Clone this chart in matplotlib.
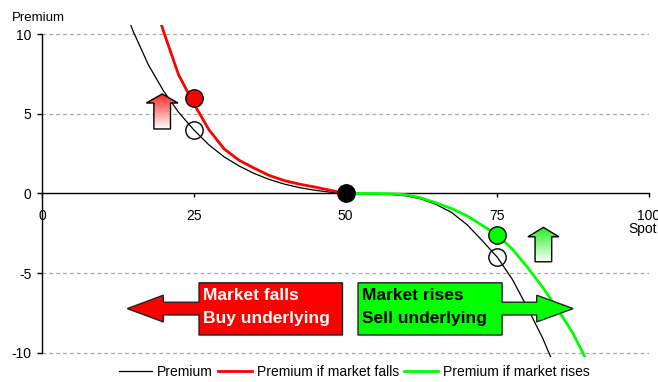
import numpy as np
import matplotlib
matplotlib.use("Agg")
import matplotlib.pyplot as plt
from matplotlib.patches import Polygon
from matplotlib.colors import LinearSegmentedColormap

plt.rcParams['font.family'] = ['Liberation Sans', 'DejaVu Sans']
plt.rcParams['axes.unicode_minus'] = False

# ---- data ----
x_premium = [14.5, 15, 17.5, 20, 22.5, 25, 27.5, 30, 32.5, 35, 37.5, 40, 42.5, 45, 47.5, 50,
             52.5, 55, 57.5, 60, 62.5, 65, 67.5, 70, 72.5, 75, 77.5, 80, 82.5, 84.5]
y_premium = [10.7, 10.2, 8.1, 6.45, 5.1, 4.0, 3.05, 2.3, 1.72, 1.25, 0.87, 0.58, 0.36, 0.2, 0.08, 0.0,
             -0.01, -0.03, -0.07, -0.15, -0.35, -0.7, -1.2, -1.95, -2.95, -4.0, -5.4, -7.2, -9.1, -10.9]
x_falls = [19.5, 20, 22.5, 25, 27.5, 30, 32.5, 35, 37.5, 40, 42.5, 45, 47.5, 50]
y_falls = [10.8, 10.2, 7.45, 5.65, 4.0, 2.8, 2.08, 1.58, 1.12, 0.8, 0.58, 0.4, 0.2, 0.0]
x_rises = [50, 52.5, 55, 57.5, 60, 62.5, 65, 67.5, 70, 72.5, 75, 77.5, 80, 82.5, 85, 87.5, 90]
y_rises = [0.0, 0.0, 0.0, -0.02, -0.08, -0.28, -0.6, -0.95, -1.4, -2.0, -2.6, -3.5, -4.65, -5.9, -7.3, -8.8, -10.7]

open_pts_x = [25, 75]
open_pts_y = [4, -4]
atm_x, atm_y = [50], [0]
fall_pt_x, fall_pt_y = [25], [6]
rise_pt_x, rise_pt_y = [75], [-2.6]

x_ticks = [0, 25, 50, 75, 100]
y_ticks = [-10, -5, 0, 5, 10]
legend_labels = ["Premium", "Premium if market falls", "Premium if market rises"]

RED = "#ff0000"
GREEN = "#00ff00"

fig = plt.figure(figsize=(6.58, 3.82), dpi=100)
ax = fig.add_axes([42/658, 25/382, (649-42)/658, 332/382])
ax.set_xlim(0, 100)
ax.set_ylim(-10.27, 10.58)

# grid
for yv in [-10, -5, 5, 10]:
    ax.plot([0, 100], [yv, yv], color="#a8a8a8", lw=0.9, ls=(0, (3, 2.5)), zorder=1)

l1, = ax.plot(x_premium, y_premium, color="black", lw=0.9, zorder=3)
l2, = ax.plot(x_falls, y_falls, color=RED, lw=2.0, zorder=3)
l3, = ax.plot(x_rises, y_rises, color=GREEN, lw=2.0, zorder=3)

ms = 12.5
ax.plot(open_pts_x, open_pts_y, 'o', ms=ms, mfc='none', mec='black', mew=1, zorder=6)
ax.plot(atm_x, atm_y, 'o', ms=ms, mfc='black', mec='black', mew=1, zorder=6)
ax.plot(fall_pt_x, fall_pt_y, 'o', ms=ms, mfc=RED, mec='black', mew=1, zorder=6)
ax.plot(rise_pt_x, rise_pt_y, 'o', ms=ms, mfc=GREEN, mec='black', mew=1, zorder=6)

# spines
for s in ['top', 'right']:
    ax.spines[s].set_visible(False)
ax.spines['bottom'].set_position(('data', 0))
ax.spines['bottom'].set_bounds(0, 100)
ax.spines['left'].set_bounds(-10, 10)
for s in ['bottom', 'left']:
    ax.spines[s].set_linewidth(1.0)
    ax.spines[s].set_zorder(2)
ax.set_xticks(x_ticks)
ax.set_yticks(y_ticks)
ax.set_xticklabels([str(v) for v in x_ticks])
ax.set_yticklabels([str(v) for v in y_ticks])
ax.tick_params(axis='x', direction='out', length=3, width=1, pad=8, labelsize=10)
ax.tick_params(axis='y', direction='out', length=3.3, width=1, pad=4.3, labelsize=10)

fig.text(12/658, 1 - 18/382, "Premium", fontsize=9.5, ha='left', va='center')
fig.text(628/658, 1 - 229/382, "Spot", fontsize=10, ha='left', va='center')


def grad_arrow(cx, tip, base, bottom, hw, sw, color):
    verts = [(cx - sw, bottom), (cx - sw, base), (cx - hw, base), (cx, tip),
             (cx + hw, base), (cx + sw, base), (cx + sw, bottom)]
    poly = Polygon(verts, closed=True, facecolor='none', edgecolor='black', lw=1, zorder=5)
    ax.add_patch(poly)
    grad = np.linspace(0, 1, 256).reshape(-1, 1)
    cmap = LinearSegmentedColormap.from_list('g', ['white', color])
    im = ax.imshow(grad, extent=[cx - hw, cx + hw, bottom, tip], origin='lower',
                   cmap=cmap, aspect='auto', zorder=4, interpolation='bilinear')
    im.set_clip_path(poly)


grad_arrow(19.8, 6.25, 5.68, 4.05, 2.6, 1.37, "#ff2020")
grad_arrow(82.6, -2.13, -2.72, -4.29, 2.55, 1.37, "#22ee22")


def big_arrow(box_l, box_r, head_base, tip, color, direction):
    yc = -7.23
    bt, bb = -5.61, -8.89
    st, sb = yc + 0.4, yc - 0.4
    ht, hb = yc + 0.84, yc - 0.84
    if direction == 'left':
        verts = [(box_r, bt), (box_l, bt), (box_l, st), (head_base, st), (head_base, ht),
                 (tip, yc), (head_base, hb), (head_base, sb), (box_l, sb), (box_l, bb), (box_r, bb)]
    else:
        verts = [(box_l, bt), (box_r, bt), (box_r, st), (head_base, st), (head_base, ht),
                 (tip, yc), (head_base, hb), (head_base, sb), (box_r, sb), (box_r, bb), (box_l, bb)]
    poly = Polygon(verts, closed=True, facecolor=color, edgecolor='#222222', lw=1.0, zorder=7)
    ax.add_patch(poly)


big_arrow(25.87, 49.5, 19.98, 14.05, RED, 'left')
big_arrow(52.06, 75.8, 81.5, 87.5, GREEN, 'right')

ax.text(26.6, -6.38, "Market falls", color='white', fontsize=12.5, fontweight='bold',
        ha='left', va='center', zorder=8)
ax.text(26.6, -7.85, "Buy underlying", color='white', fontsize=12.5, fontweight='bold',
        ha='left', va='center', zorder=8)
ax.text(52.8, -6.38, "Market rises", color='black', fontsize=12.5, fontweight='bold',
        ha='left', va='center', zorder=8)
ax.text(52.8, -7.85, "Sell underlying", color='black', fontsize=12.5, fontweight='bold',
        ha='left', va='center', zorder=8)

fig.legend([l1, l2, l3], legend_labels, loc='center', bbox_to_anchor=(354/658, 1 - 372/382),
           ncol=3, frameon=False, fontsize=10, handlelength=2.4, handletextpad=0.36,
           columnspacing=0.4, borderpad=0, borderaxespad=0)

fig.savefig("out.png", dpi=100)
